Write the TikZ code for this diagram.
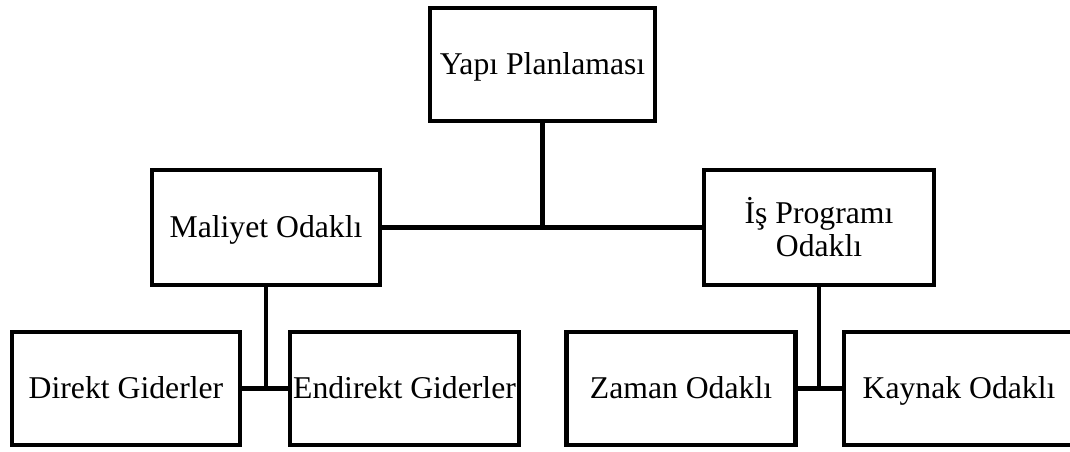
\documentclass[tikz,border=0pt]{standalone}
\usepackage{fontspec}
\setmainfont{Liberation Serif}
\begin{document}
\begin{tikzpicture}[x=1pt,y=-1pt,
  box/.style={draw=black, line width=4.7pt, rectangle, inner sep=0pt,
    minimum width=228pt, minimum height=114pt, align=center,
    font=\fontsize{31.7}{33}\selectfont},
  oneline/.style={text height=21pt, text depth=1pt},
  conn/.style={draw=black, line width=4.5pt}]
\useasboundingbox (0,0) rectangle (1070,451);
\node[box, oneline, minimum width=225pt, minimum height=113pt] (yapi) at (542.5,64.5) {Yapı Planlaması};
\node[box, oneline, minimum height=115pt] (maliyet) at (266,227.5) {Maliyet Odaklı};
\node[box, minimum width=230pt, minimum height=115pt] (is) at (819,227.5) {İş Programı\\Odaklı};
\node[box, oneline, minimum height=113pt] (direkt) at (126,388.5) {Direkt Giderler};
\node[box, oneline, minimum width=229pt, minimum height=113pt] (endirekt) at (404.5,388.5) {Endirekt Giderler};
\node[box, oneline, minimum width=229.5pt, minimum height=113pt] (zaman) at (681,388.5) {Zaman Odaklı};
\node[box, oneline, minimum width=230pt, minimum height=113pt] (kaynak) at (959,388.5) {Kaynak Odaklı};
\draw[conn] (maliyet.east) -- (is.west);
\draw[conn] (yapi.south) -- (yapi.south |- maliyet.east);
\draw[conn] (direkt.east) -- (endirekt.west);
\draw[conn] (maliyet.south) -- (maliyet.south |- direkt.east);
\draw[conn] (zaman.east) -- (kaynak.west);
\draw[conn] (is.south) -- (is.south |- zaman.east);
\end{tikzpicture}
\end{document}
